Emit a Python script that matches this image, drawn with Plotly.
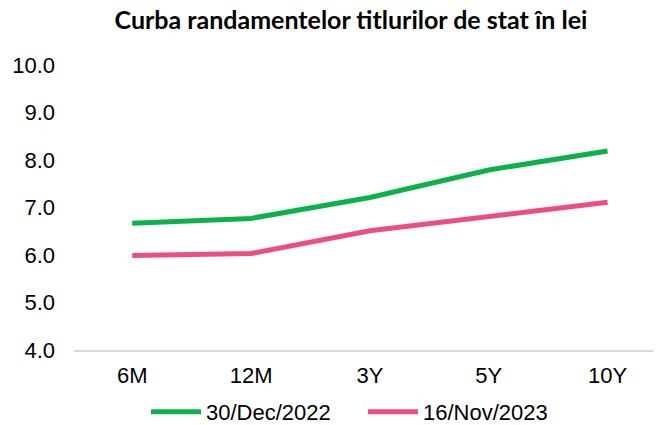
import plotly.graph_objects as go

categories = ["6M", "12M", "3Y", "5Y", "10Y"]
dec_2022 = [6.67, 6.77, 7.21, 7.79, 8.19]
nov_2023 = [5.99, 6.03, 6.51, 6.81, 7.11]
y_ticks = [4, 5, 6, 7, 8, 9, 10]
y_tick_labels = ["4.0", "5.0", "6.0", "7.0", "8.0", "9.0", "10.0"]

FONT = "Liberation Sans, Arial, sans-serif"

fig = go.Figure()
fig.add_trace(go.Scatter(x=categories, y=dec_2022, mode="lines", name="30/Dec/2022",
                         line=dict(color="#0DB14B", width=5)))
fig.add_trace(go.Scatter(x=categories, y=nov_2023, mode="lines", name="16/Nov/2023",
                         line=dict(color="#EC4F7E", width=5)))

# page body has an 8px margin
W, H = 653, 432
T = 57
B = H - T - 285
fig.update_layout(
    width=W, height=H,
    margin=dict(l=66, r=0, t=T, b=B),
    paper_bgcolor="white", plot_bgcolor="white",
    font=dict(family=FONT, size=22, color="#000000"),
    title=dict(text="<b>Curba randamentelor titlurilor de stat în lei</b>",
               x=(351 - 8) / W, xanchor="center", y=1 - (20 - 8) / H, yanchor="middle",
               font=dict(size=25, family="Lato, sans-serif")),
    showlegend=True,
    legend=dict(orientation="h", x=(146 - 74) / 587, xanchor="left",
                y=-(412 - 350) / 285, yanchor="middle",
                font=dict(size=22, family=FONT), tracegroupgap=0,
                itemwidth=50, entrywidth=152),
    xaxis=dict(showgrid=False, showline=True, linecolor="#D9D9D9", linewidth=2,
               ticks="", tickfont=dict(size=22), range=[-0.49, 4.45], ticklabelstandoff=5),
    yaxis=dict(range=[4, 10], tickvals=y_ticks, ticktext=y_tick_labels,
               showgrid=False, zeroline=False, showline=False, ticks="",
               tickfont=dict(size=22), ticklabelstandoff=18),
)
fig.write_html("out.html")
